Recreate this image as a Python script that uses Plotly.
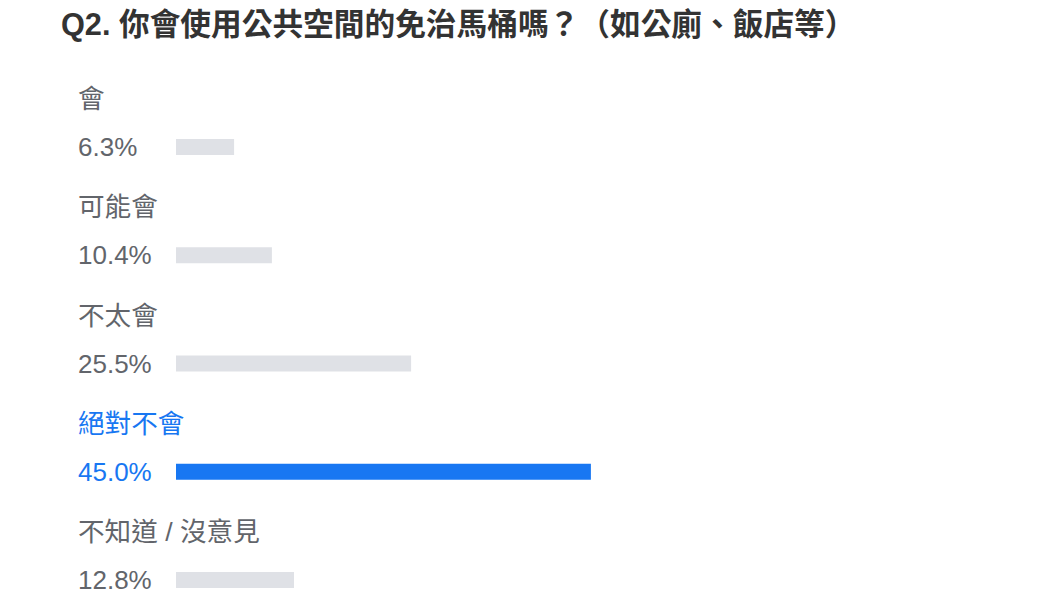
import plotly.graph_objects as go

title_text = "Q2. 你會使用公共空間的免治馬桶嗎？（如公廁、飯店等）"
categories = ["會", "可能會", "不太會", "絕對不會", "不知道 / 沒意見"]
percents = [6.3, 10.4, 25.5, 45.0, 12.8]
highlight = "絕對不會"

GRAY_TEXT = "#62656b"
BLUE = "#1877f2"
BAR_GRAY = "#dfe1e6"
FONT = "Liberation Sans, Arial, Noto Sans CJK TC, sans-serif"

OFF = 8  # page body margin
W, H = 1060 - OFF, 596 - OFF
ML, MR, MT, MB = 176 - OFF, 0, 60 - OFF, 0
px_per_pct = 9.22
plot_w = W - ML - MR
plot_h = H - MT - MB
row_px = 108.25
first_center = 147 - OFF
last_center = 580 - OFF
text_x = 79 - OFF - 3
title_x = 62 - OFF - 3
title_y = 25 - OFF

bar_colors = [BLUE if c == highlight else BAR_GRAY for c in categories]
text_colors = [BLUE if c == highlight else GRAY_TEXT for c in categories]

fig = go.Figure(go.Bar(
    x=percents,
    y=categories,
    orientation="h",
    marker=dict(color=bar_colors, line=dict(width=0)),
    width=16 / row_px,
    hoverinfo="skip",
))

n = len(categories)
y_top = 0 - (first_center - MT) / row_px
y_bot = (n - 1) + (H - MB - last_center) / row_px

annotations = []
for c, p, col in zip(categories, percents, text_colors):
    annotations.append(dict(
        x=(text_x - ML) / plot_w, xref="paper", xanchor="left",
        y=c, yref="y", yanchor="middle",
        text=f"{p:.1f}%", showarrow=False,
        font=dict(size=26, color=col, family=FONT),
    ))
    annotations.append(dict(
        x=(text_x - ML) / plot_w, xref="paper", xanchor="left",
        y=c, yref="y", yanchor="middle", yshift=48,
        text=c, showarrow=False,
        font=dict(size=26.6, color=col, family=FONT),
    ))

annotations.append(dict(
    x=(title_x - ML) / plot_w, xref="paper", xanchor="left",
    y=1 + (MT - title_y) / plot_h, yref="paper", yanchor="middle",
    text=f"<b>{title_text}</b>", showarrow=False,
    font=dict(size=30.7, color="#333333", family=FONT),
))

fig.update_layout(
    width=W, height=H,
    margin=dict(l=ML, r=MR, t=MT, b=MB, pad=0),
    paper_bgcolor="white", plot_bgcolor="white",
    showlegend=False,
    xaxis=dict(range=[0, plot_w / px_per_pct], visible=False, fixedrange=True),
    yaxis=dict(type="category", categoryorder="array", categoryarray=categories,
               range=[y_bot, y_top], visible=False, fixedrange=True),
    annotations=annotations,
)

fig.write_html("out.html", config={"displayModeBar": False})
